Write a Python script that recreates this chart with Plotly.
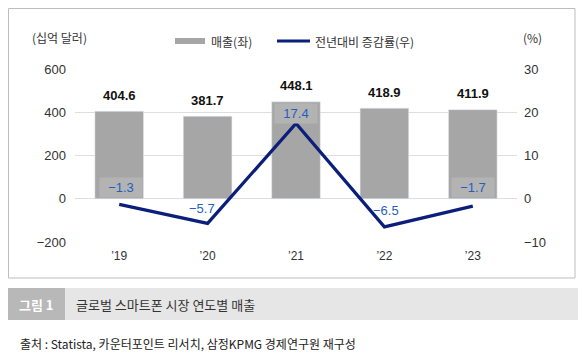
import plotly.graph_objects as go

years = ["’19", "’20", "’21", "’22", "’23"]
sales = [404.6, 381.7, 448.1, 418.9, 411.9]
growth = [-1.3, -5.7, 17.4, -6.5, -1.7]
growth_labels = ["−1.3", "−5.7", "17.4", "−6.5", "−1.7"]
left_ticks = [-200, 0, 200, 400, 600]
left_tick_text = ["−200", "0", "200", "400", "600"]
right_ticks = [-10, 0, 10, 20, 30]
right_tick_text = ["−10", "0", "10", "20", "30"]

# the page body has an 8px default margin; lay out in window pixels and subtract it
OFF = 8
W, H = 586 - OFF, 360 - OFF
L, R, T, B = 75 - OFF, 517 - OFF, 69 - OFF, 242 - OFF


def px(x):
    return (x - OFF - L) / (R - L)


def py(y):
    return (B - (y - OFF)) / (B - T)


KR = "Noto Sans CJK KR"
NUM = "Liberation Sans"
BAR_C = "#a6a6a6"
LINE_C = "#0b1e7a"
LBL_C = "#1f5fc0"

fig = go.Figure()
fig.add_trace(go.Bar(x=years, y=sales, marker_color=BAR_C, yaxis="y", showlegend=False,
                     hoverinfo="skip"))
fig.add_trace(go.Scatter(x=years, y=growth, mode="lines", line=dict(color=LINE_C, width=3.2),
                         yaxis="y2", showlegend=False, hoverinfo="skip"))

ann = []
for xv, v in zip(years, sales):
    ann.append(dict(x=xv, y=v, xref="x", yref="y", text=f"<b>{v:.1f}</b>", showarrow=False,
                    yshift=16, font=dict(family=NUM, size=13, color="#111111")))
offsets = [(2, 17, True), (-6, 15, False), (0, 10, True), (2, 16, False), (0, 19, True)]
for xv, v, t, (dx, dy, bg) in zip(years, growth, growth_labels, offsets):
    d = dict(x=xv, y=v, xref="x", yref="y2", text=t, showarrow=False,
             xshift=dx, yshift=dy, font=dict(family=NUM, size=13, color=LBL_C))
    if bg:
        d.update(bgcolor="#b3b3b3", width=40, height=17)
    ann.append(d)


def txt(x, y, text, size=12, color="#333333", xanchor="left"):
    return dict(x=px(x), y=py(y), xref="paper", yref="paper", text=text, showarrow=False,
                xanchor=xanchor, yanchor="middle", font=dict(family=KR, size=size, color=color))


ann.append(txt(30, 37, "(십억 달러)"))
ann.append(txt(521, 37, "(%)"))
ann.append(txt(209, 41, "매출(좌)"))
ann.append(txt(313, 41, "전년대비 증감률(우)"))
ann.append(txt(36, 304, "<b>그림 1</b>", size=13, color="#ffffff", xanchor="center"))
ann.append(txt(74, 304, "글로벌 스마트폰 시장 연도별 매출", size=13))
ann.append(txt(18, 343, "출처 : Statista, 카운터포인트 리서치, 삼정KPMG 경제연구원 재구성", color="#222222"))

shapes = [
    dict(type="rect", xref="paper", yref="paper", x0=px(8.5), x1=px(575), y0=py(278), y1=py(8.5),
         line=dict(color="#bdbdbd", width=1), fillcolor="rgba(0,0,0,0)", layer="below"),
    dict(type="rect", xref="paper", yref="paper", x0=px(7), x1=px(580), y0=py(320), y1=py(288),
         line=dict(width=0), fillcolor="#e6e6e6", layer="below"),
    dict(type="rect", xref="paper", yref="paper", x0=px(7), x1=px(65), y0=py(320), y1=py(288),
         line=dict(width=0), fillcolor="#b8b8b8", layer="below"),
    dict(type="rect", xref="paper", yref="paper", x0=px(175), x1=px(205), y0=py(44), y1=py(38),
         line=dict(width=0), fillcolor=BAR_C),
    dict(type="line", xref="paper", yref="paper", x0=px(277), x1=px(310), y0=py(41), y1=py(41),
         line=dict(color=LINE_C, width=3)),
]

fig.update_layout(
    width=W, height=H,
    margin=dict(l=L, r=W - R, t=T, b=H - B, pad=0),
    paper_bgcolor="white", plot_bgcolor="white",
    bargap=0.45,
    xaxis=dict(showgrid=False, showline=False, ticks="", ticklabelstandoff=5,
               tickfont=dict(family=NUM, size=12, color="#333333"), fixedrange=True),
    yaxis=dict(range=[-200, 600], tickvals=left_ticks, ticktext=left_tick_text, showgrid=True,
               gridcolor="#dedede", gridwidth=1, zeroline=False, showline=False, ticks="",
               ticklabelstandoff=8, tickfont=dict(family=NUM, size=13, color="#333333")),
    yaxis2=dict(range=[-10, 30], tickvals=right_ticks, ticktext=right_tick_text, overlaying="y", side="right",
                showgrid=False, zeroline=False, showline=False, ticks="", ticklabelstandoff=6,
                tickfont=dict(family=NUM, size=13, color="#333333")),
    annotations=ann,
    shapes=shapes,
)

fig.write_html("out.html")
